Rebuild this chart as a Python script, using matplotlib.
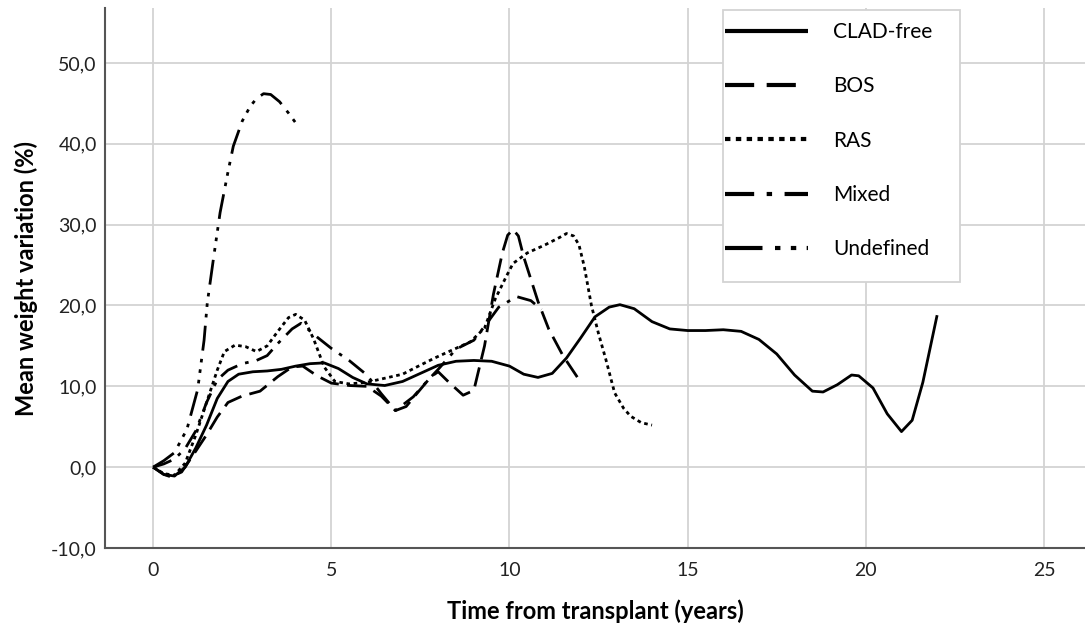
import matplotlib
matplotlib.use("Agg")
import matplotlib.pyplot as plt
from matplotlib.patches import Rectangle

plt.rcParams['font.family'] = ['Lato', 'DejaVu Sans']

# ---- data ----
clad_x = [0, 0.3, 0.6, 0.9, 1.2, 1.5, 1.8, 2.1, 2.4, 2.8, 3.2, 3.6, 4.0, 4.4, 4.8, 5.2, 5.6,
          6.0, 6.5, 7.0, 7.5, 8.0, 8.5, 9.0, 9.5, 10.0, 10.4, 10.8, 11.2, 11.6, 12.0, 12.4,
          12.8, 13.1, 13.5, 14.0, 14.5, 15.0, 15.5, 16.0, 16.5, 17.0, 17.5, 18.0, 18.5, 18.8,
          19.2, 19.6, 19.8, 20.2, 20.6, 21.0, 21.3, 21.6, 22.0]
clad_y = [0, -0.9, -1.1, 0.0, 2.4, 5.2, 8.5, 10.6, 11.5, 11.8, 11.9, 12.1, 12.5, 12.8, 12.9,
          12.2, 11.1, 10.3, 10.1, 10.6, 11.6, 12.6, 13.1, 13.2, 13.1, 12.5, 11.5, 11.1, 11.6,
          13.5, 16.0, 18.6, 19.8, 20.1, 19.6, 18.0, 17.1, 16.9, 16.9, 17.0, 16.8, 15.8, 14.0,
          11.4, 9.4, 9.3, 10.2, 11.4, 11.3, 9.8, 6.6, 4.4, 5.8, 10.5, 18.8]

bos_x = [0, 0.3, 0.5, 0.8, 1.2, 1.5, 1.8, 2.1, 2.5, 3.0, 3.5, 3.9, 4.2, 4.6, 5.0, 5.5, 6.0,
         6.4, 6.8, 7.1, 7.4, 7.8, 8.0, 8.3, 8.7, 9.0, 9.3, 9.55, 9.8, 9.95, 10.1, 10.25, 10.4,
         10.8, 11.1, 11.5, 12.0]
bos_y = [0, -0.9, -1.2, -0.6, 2.0, 4.0, 6.2, 8.0, 8.8, 9.4, 11.2, 12.4, 12.5, 11.3, 10.4,
         10.1, 10.0, 8.8, 7.0, 7.5, 9.1, 11.2, 11.8, 10.5, 8.9, 9.5, 15.0, 21.4, 26.5, 28.7,
         29.4, 28.6, 26.0, 20.5, 17.1, 13.8, 10.5]

ras_x = [0, 0.3, 0.6, 0.9, 1.2, 1.5, 1.8, 2.0, 2.3, 2.6, 2.9, 3.2, 3.5, 3.8, 4.0, 4.25, 4.5,
         4.8, 5.1, 5.5, 6.0, 6.5, 7.0, 7.4, 7.9, 8.5, 8.9, 9.3, 9.6, 9.9, 10.1, 10.5, 11.0,
         11.4, 11.6, 11.8, 11.95, 12.1, 12.3, 12.5, 12.7, 12.95, 13.2, 13.4, 13.7, 14.0]
ras_y = [0, -0.8, -1.0, 0.5, 4.0, 8.0, 12.0, 14.3, 15.1, 14.9, 14.3, 15.0, 16.8, 18.5, 18.9,
         18.2, 15.9, 12.4, 10.6, 10.3, 10.5, 11.0, 11.5, 12.4, 13.5, 14.7, 15.5, 17.2, 20.8,
         23.5, 25.2, 26.5, 27.5, 28.4, 28.9, 28.6, 27.5, 24.8, 20.0, 16.5, 13.4, 9.2, 7.3,
         6.3, 5.5, 5.2]

mixed_x = [0, 0.3, 0.6, 0.9, 1.2, 1.5, 1.8, 2.1, 2.5, 2.9, 3.2, 3.5, 3.9, 4.15, 4.6, 5.0,
           5.5, 6.0, 6.4, 6.8, 7.3, 7.7, 8.0, 8.5, 9.0, 9.35, 9.7, 10.2, 10.6, 10.9]
mixed_y = [0, 0.4, 1.0, 2.3, 4.5, 8.0, 10.8, 12.0, 12.8, 13.2, 13.8, 15.3, 17.1, 17.8, 16.1,
           14.7, 13.2, 11.4, 9.1, 7.0, 8.7, 10.7, 12.1, 14.6, 15.7, 17.7, 19.8, 21.1, 20.6, 19.5]

undef_x = [0, 0.3, 0.6, 0.95, 1.25, 1.43, 1.52, 1.7, 1.88, 2.1, 2.25, 2.5, 2.72, 2.9, 3.1,
           3.3, 3.55, 3.8, 4.0]
undef_y = [0, 0.8, 1.8, 4.7, 9.6, 15.7, 20.3, 26.0, 31.5, 36.5, 39.7, 42.8, 44.6, 45.6, 46.2,
           46.1, 45.2, 43.8, 42.6]

labels = ["CLAD-free", "BOS", "RAS", "Mixed", "Undefined"]
x_ticks = [0, 5, 10, 15, 20, 25]
x_ticklabels = ["0", "5", "10", "15", "20", "25"]
y_ticks = [-10, 0, 10, 20, 30, 40, 50]
y_ticklabels = ["-10,0", "0,0", "10,0", "20,0", "30,0", "40,0", "50,0"]

series = [(clad_x, clad_y), (bos_x, bos_y), (ras_x, ras_y), (mixed_x, mixed_y), (undef_x, undef_y)]
styles = ['-', (0, (7, 3)), (0, (1.3, 1.3)), (0, (7, 3, 1.3, 3)),
          (0, (9, 3, 1.3, 2.5, 1.3, 2.5, 1.3, 3))]

fig = plt.figure(figsize=(10.85, 6.28), dpi=100)
ax = fig.add_axes([105/1085, 80/628, 980/1085, 540/628])

for (xs, ys), ls, lab in zip(series, styles, labels):
    ax.plot(xs, ys, color='black', lw=2.0, linestyle=ls, label=lab,
            solid_capstyle='butt', dash_capstyle='butt', solid_joinstyle='round')

ax.set_xlim(-1.35, 26.15)
ax.set_ylim(-10, 56.8)
ax.set_xticks(x_ticks)
ax.set_xticklabels(x_ticklabels)
ax.set_yticks(y_ticks)
ax.set_yticklabels(y_ticklabels)
ax.tick_params(axis='both', length=0, labelsize=14, colors='#222222')
ax.tick_params(axis='x', pad=10)
ax.tick_params(axis='y', pad=6)

ax.grid(True, color='#d3d3d3', lw=1.3)
ax.set_axisbelow(True)
for s in ['top', 'right']:
    ax.spines[s].set_visible(False)
for s in ['left', 'bottom']:
    ax.spines[s].set_color('#555555')
    ax.spines[s].set_linewidth(1.5)

ax.set_xlabel("Time from transplant (years)", fontsize=17, fontweight='bold', labelpad=15)
ax.set_ylabel("Mean weight variation (%)", fontsize=17, fontweight='bold', labelpad=9)

# legend frame drawn as a box in axes coordinates
frame = Rectangle((0.6306, 0.4926), 0.8724 - 0.6306, 0.9963 - 0.4926, transform=ax.transAxes,
                  facecolor='white', edgecolor='#d3d3d3', lw=1.3, zorder=4)
ax.add_patch(frame)
leg = ax.legend(loc='upper left', bbox_to_anchor=(0.6306, 0.978), fontsize=15,
                handlelength=4.0, handletextpad=1.2, labelspacing=1.65,
                borderpad=0.1, frameon=False, borderaxespad=0)
leg.set_zorder(5)
for h in leg.legend_handles:
    h.set_linewidth(3.0)

fig.savefig("out.png", dpi=100)
